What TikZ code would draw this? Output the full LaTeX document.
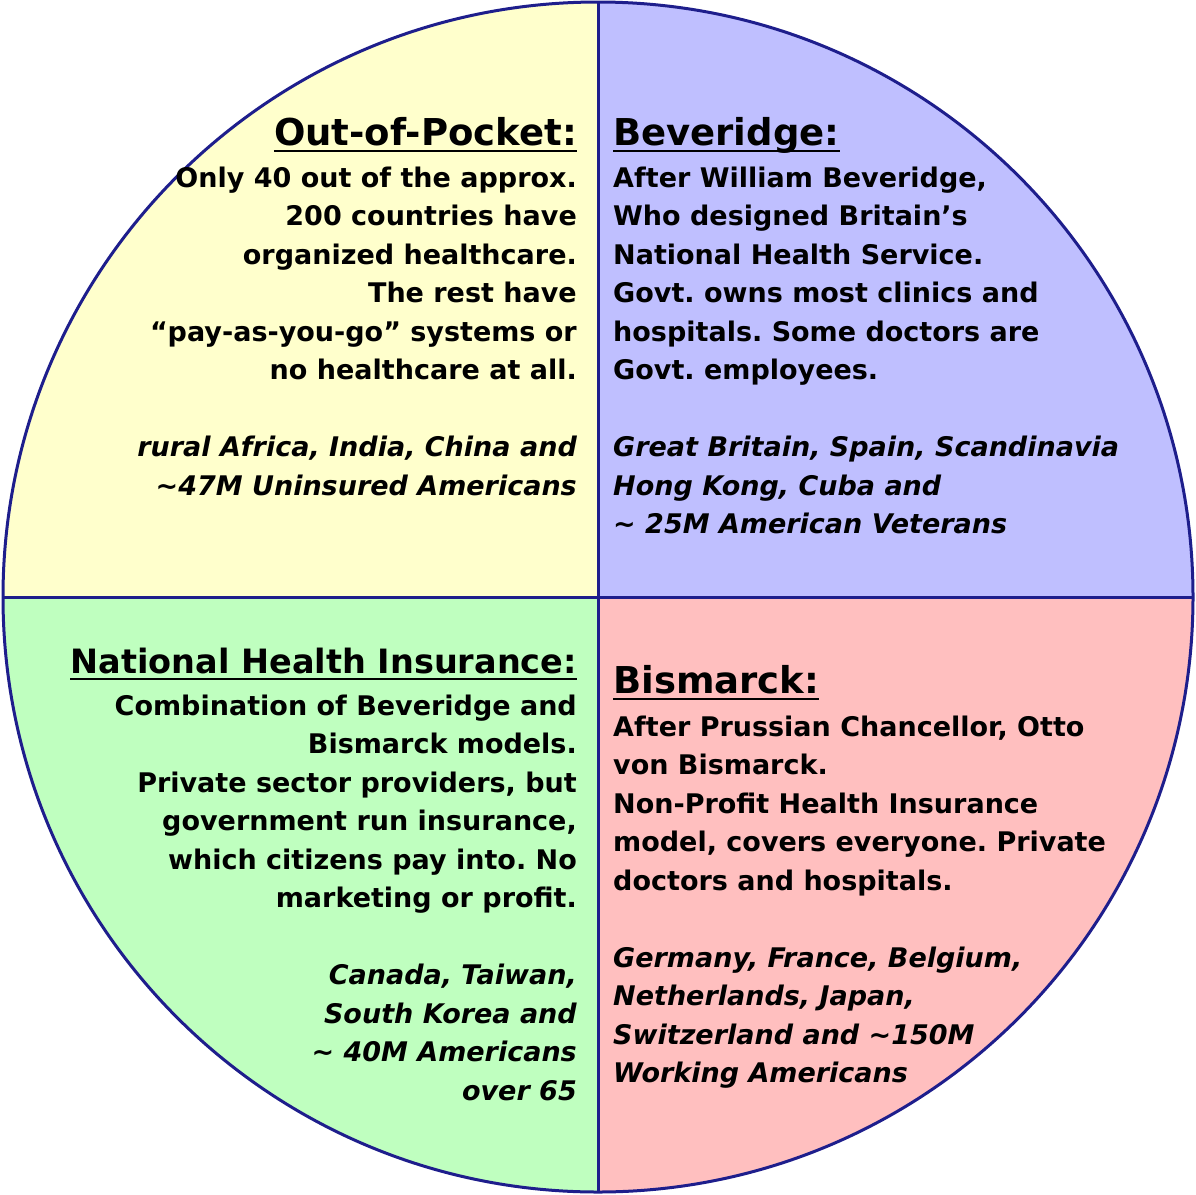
\documentclass[tikz,border=0pt]{standalone}
\usepackage{fontspec}
\setmainfont{DejaVu Sans}
\frenchspacing
\definecolor{qyellow}{RGB}{255,255,204}
\definecolor{qblue}{RGB}{191,191,255}
\definecolor{qgreen}{RGB}{191,255,191}
\definecolor{qpink}{RGB}{255,191,191}
\definecolor{rim}{RGB}{30,30,140}
\tikzset{
  title/.style={inner sep=0pt, font=\bfseries\fontsize{37}{44}\selectfont},
  body/.style={inner sep=0pt, font=\bfseries\fontsize{27}{38.5}\selectfont},
  rbody/.style={body, align=right, anchor=base east},
  lbody/.style={body, align=left, anchor=base west},
  uline/.style={line width=2pt, black}
}
\begin{document}
\begin{tikzpicture}[x=1pt,y=-1pt]
\useasboundingbox (0,0) rectangle (1196,1194);
\coordinate (c) at (598,597);
\begin{scope}
  \clip (c) circle[radius=595];
  \fill[qyellow] (0,0) rectangle (598,597);
  \fill[qblue] (598,0) rectangle (1196,597);
  \fill[qgreen] (0,597) rectangle (598,1194);
  \fill[qpink] (598,597) rectangle (1196,1194);
\end{scope}
\draw[rim, line width=3pt] (c) circle[radius=595];
\draw[rim, line width=3pt] (598,2) -- (598,1192);
\draw[rim, line width=3pt] (3,597) -- (1193,597);

% Out-of-Pocket
\node[title, anchor=base east] (t1) at (577,145) {Out-of-Pocket:};
\draw[uline] ([yshift=-6pt]t1.base west) -- ([yshift=-6pt]t1.base east);
\node[rbody] (b1) at (577,495) {Only 40 out of the approx.\\200 countries have\\organized healthcare.\\The rest have\\“pay-as-you-go” systems or\\no healthcare at all.\\[38.5pt]\itshape rural Africa, India, China and\\\itshape \textasciitilde47M Uninsured Americans};

% Beveridge
\node[title, anchor=base west] (t2) at (613,145) {Beveridge:};
\draw[uline] ([yshift=-6pt]t2.base west) -- ([yshift=-6pt]t2.base east);
\node[lbody] (b2) at (613,533.5) {After William Beveridge,\\Who designed Britain’s\\National Health Service.\\Govt. owns most clinics and\\hospitals. Some doctors are\\Govt. employees.\\[38.5pt]\itshape Great Britain, Spain, Scandinavia\\\itshape Hong Kong, Cuba and\\\itshape \textasciitilde{} 25M American Veterans};

% National Health Insurance
\node[title, font=\bfseries\fontsize{33.5}{40}\selectfont, anchor=base east] (t3) at (577,673) {National Health Insurance:};
\draw[uline] ([yshift=-6pt]t3.base west) -- ([yshift=-6pt]t3.base east);
\node[rbody] (b3) at (577,1100) {Combination of Beveridge and\\Bismarck models.\\Private sector providers, but\\government run insurance,\\which citizens pay into. No\\marketing or profit.\\[38.5pt]\itshape Canada, Taiwan,\\\itshape South Korea and\\\itshape \textasciitilde{} 40M Americans\\\itshape over 65};

% Bismarck
\node[title, anchor=base west] (t4) at (613,693) {Bismarck:};
\draw[uline] ([yshift=-6pt]t4.base west) -- ([yshift=-6pt]t4.base east);
\node[lbody] (b4) at (613,1082.5) {After Prussian Chancellor, Otto\\von Bismarck.\\Non-Profit Health Insurance\\model, covers everyone. Private\\doctors and hospitals.\\[38.5pt]\itshape Germany, France, Belgium,\\\itshape Netherlands, Japan,\\\itshape Switzerland and \textasciitilde150M\\\itshape Working Americans};
\end{tikzpicture}
\end{document}
